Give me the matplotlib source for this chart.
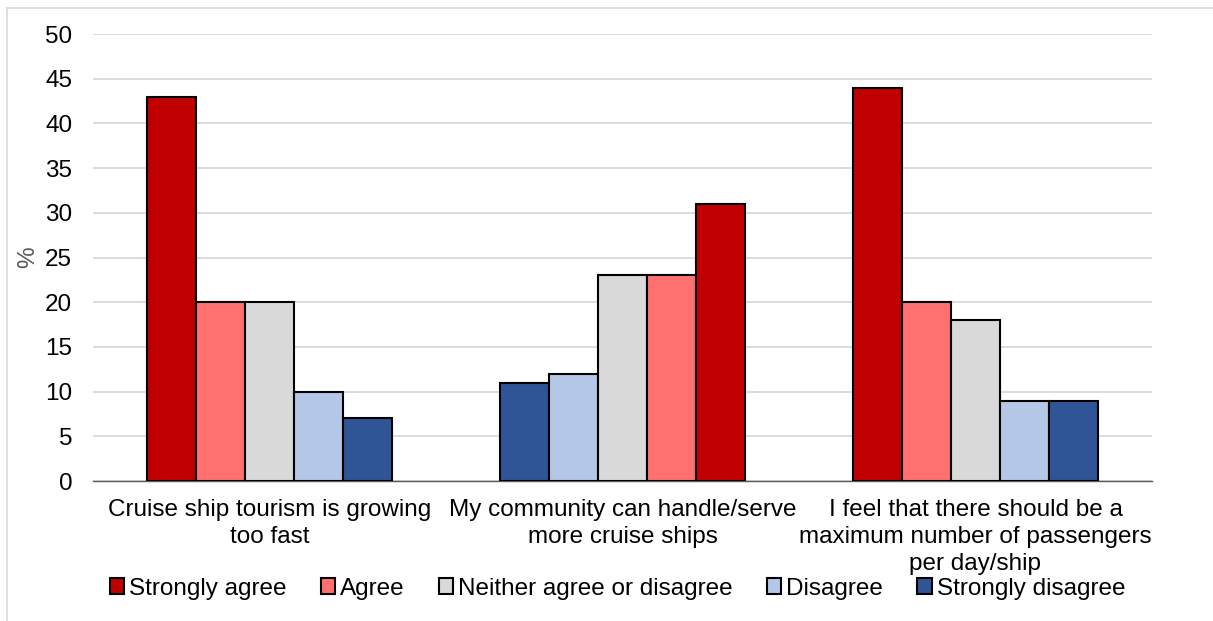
import matplotlib
matplotlib.use("Agg")
import matplotlib.pyplot as plt
from matplotlib.lines import Line2D
from matplotlib.patches import Patch
import numpy as np

plt.rcParams['font.family'] = ['Liberation Sans', 'DejaVu Sans']

categories = [
    "Cruise ship tourism is growing\ntoo fast",
    "My community can handle/serve\nmore cruise ships",
    "I feel that there should be a\nmaximum number of passengers\nper day/ship",
]
responses = ["Strongly agree", "Agree", "Neither agree or disagree",
             "Disagree", "Strongly disagree"]
colors = ["#C00000", "#FF7171", "#D9D9D9", "#B4C7E7", "#2F5597"]

# percentages per response, in category order
strongly_agree = [43, 31, 44]
agree = [20, 23, 20]
neither = [20, 23, 18]
disagree = [10, 12, 9]
strongly_disagree = [7, 11, 9]
values = [strongly_agree, agree, neither, disagree, strongly_disagree]

# bar order within each group (middle statement is shown reversed)
group_order = [
    [0, 1, 2, 3, 4],
    [4, 3, 2, 1, 0],
    [0, 1, 2, 3, 4],
]

FS = 17.5
fig = plt.figure(figsize=(12.13, 6.21), dpi=100)
ax = fig.add_axes([0.0767, 0.2254, 0.873, 0.7198])

bar_w = 0.139
x = np.arange(len(categories))
for gi, order in enumerate(group_order):
    for pos, si in enumerate(order):
        xi = x[gi] + (pos - 2) * bar_w
        ax.bar(xi, values[si][gi], width=bar_w, color=colors[si],
               edgecolor="black", linewidth=1.5, zorder=3)

ax.set_xlim(-0.5, 2.5)
ax.set_ylim(0, 50)
ax.set_yticks(np.arange(0, 51, 5))
ax.yaxis.grid(True, color="#D9D9D9", linewidth=1.3, zorder=0)
ax.set_axisbelow(True)
for s in ["top", "right", "left"]:
    ax.spines[s].set_visible(False)
ax.spines["bottom"].set_color("#595959")
ax.spines["bottom"].set_linewidth(1.0)
ax.tick_params(axis="y", length=0, labelsize=FS, pad=15, labelcolor="black")
ax.tick_params(axis="x", length=0, labelsize=FS, pad=13)
ax.set_xticks(x)
ax.set_xticklabels(categories, linespacing=1.3)
ax.set_ylabel("%", fontsize=FS, labelpad=4, color="#595959")

handles = [Patch(facecolor=c, edgecolor="black", linewidth=1.5) for c in colors]
fig.legend(handles, responses, loc="center", bbox_to_anchor=(0.509, 0.052),
           ncol=5, frameon=False, fontsize=FS, handlelength=0.6,
           handleheight=0.6, handletextpad=0.2, columnspacing=1.4,
           borderpad=0)

# chart border (left and top edges)
fig.add_artist(Line2D([7 / 1213, 7 / 1213], [0, 1 - 8 / 621],
                      transform=fig.transFigure, color="#D9D9D9", linewidth=1.2))
fig.add_artist(Line2D([7 / 1213, 1], [1 - 8 / 621, 1 - 8 / 621],
                      transform=fig.transFigure, color="#D9D9D9", linewidth=1.2))

fig.savefig("out.png", dpi=100)
